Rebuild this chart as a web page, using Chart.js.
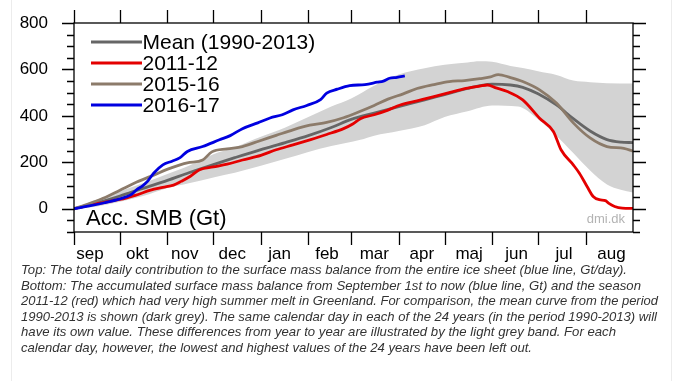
<!DOCTYPE html>
<html>
<head>
<meta charset="utf-8">
<script src="https://cdn.jsdelivr.net/npm/chart.js@4/dist/chart.umd.min.js"></script>
<style>
  html, body { margin:0; padding:0; background:#fff; }
  body { width:680px; height:381px; position:relative; overflow:hidden; }
  #wrap { position:absolute; left:0; top:0; width:680px; height:275px; }
  .edge { position:absolute; top:0; width:1px; height:381px; background:#ececec; }
  #cap { position:absolute; left:21px; top:262px; font-family:"Liberation Sans", Arial, sans-serif; font-style:italic; font-synthesis:style; font-size:13px; line-height:15.6px; color:#333; }
  #cap div { white-space:nowrap; height:15.6px; }
  #cap span { display:inline-block; transform-origin:0 50%; }
</style>
</head>
<body>
<div class="edge" style="left:11px"></div>
<div class="edge" style="left:671px"></div>
<div id="wrap"><canvas id="c" width="680" height="275"></canvas></div>
<div id="cap"></div>
<script>
// ---- data (day index from 1 September, value in Gt) ----
const months = ['sep','okt','nov','dec','jan','feb','mar','apr','maj','jun','jul','aug'];
const monthStarts = [0,30,61,91,122,153,181,212,242,273,303,334];
const monthLabelDays = [10.4,41.4,72.3,103.3,134.2,165.2,196.1,227.1,258,289,319.9,350.9];
const yLabelVals = [0,200,400,600,800];

const meanDay = [0,15,30,45,61,75,91,105,122,138,153,168,181,196,212,229,242,257,265,273,285,293,303,315,326,337,348,357,365];
const meanGt  = [0,25,55,88,122,155,190,220,255,285,315,350,385,412,440,469,492,518,530,537,533,523,495,447,388,335,298,287,285];

const bandHiDay = [0,15,30,45,61,75,91,105,122,138,153,168,181,196,212,229,242,257,265,273,285,293,303,315,326,337,348,365];
const bandHiGt  = [0,40,75,110,150,185,235,265,310,350,395,440,475,530,578,605,620,630,635,633,615,606,592,576,552,545,541,540];

const bandLoDay = [0,15,30,45,61,75,91,105,122,138,153,168,187,196,212,229,242,257,273,290,303,315,326,337,348,357,365];
const bandLoGt  = [0,10,30,55,90,110,135,155,185,215,245,270,297,315,335,360,395,420,445,440,385,315,240,165,105,82,70];

const red1112Day = [0,10,20,30,40,50,58,65,70,76,82,91,100,110,122,132,143,154,165,176,182,187,196,205,213,224,235,245,256,265,270,275,283,293,304,313,318,326,330,335,339,343,347,349,353,358,365];
const red1112Gt  = [0,16,28,40,58,80,92,102,118,140,168,180,192,210,230,254,275,297,320,345,365,388,405,425,447,465,483,500,518,528,533,522,505,469,390,333,254,189,153,96,53,39,35,24,10,3,2];

const brown1516Day = [0,10,19,30,41,52,63,74,84,90,100,110,121,132,143,154,165,176,187,196,205,215,224,235,245,255,265,272,277,285,293,304,315,326,337,348,359,365];
const brown1516Gt  = [0,22,45,80,115,145,175,198,210,245,258,268,292,316,340,360,372,392,420,445,472,495,518,535,548,552,560,568,578,565,548,512,455,370,305,268,260,248];

const blue1617Day = [0,10,20,30,37,41,45,48,52,58,64,69,74,84,95,102,110,120,128,136,143,152,161,165,172,180,190,198,202,206,211,216];
const blue1617Gt  = [0,12,26,43,60,82,100,118,153,189,205,219,247,268,297,315,345,370,391,405,426,445,470,498,515,530,535,545,550,562,566,572];

const captionLines = [
  'Top: The total daily contribution to the surface mass balance from the entire ice sheet (blue line, Gt/day).',
  'Bottom: The accumulated surface mass balance from September 1st to now (blue line, Gt) and the season',
  '2011-12 (red) which had very high summer melt in Greenland. For comparison, the mean curve from the period',
  '1990-2013 is shown (dark grey). The same calendar day in each of the 24 years (in the period 1990-2013) will',
  'have its own value. These differences from year to year are illustrated by the light grey band. For each',
  'calendar day, however, the lowest and highest values of the 24 years have been left out.'
];
const captionWidths = [606,620,637,636,595,511];

// ---- build ----
const pts = (d, v) => d.map((x, i) => ({x, y: v[i]}));
const FONT = '"Liberation Sans", Arial, Helvetica, sans-serif';

const lineSet = (label, d, v, color) => ({
  label, data: pts(d, v), borderColor: color, backgroundColor: color,
  borderWidth: 2.8, pointRadius: 0, fill: false, cubicInterpolationMode: 'monotone'
});

const datasets = [
  lineSet('2016-17', blue1617Day, blue1617Gt, '#0000e0'),
  lineSet('2015-16', brown1516Day, brown1516Gt, '#8c7b6a'),
  lineSet('2011-12', red1112Day, red1112Gt, '#e40000'),
  lineSet('Mean (1990-2013)', meanDay, meanGt, '#666666'),
  { label: 'bandHi', data: pts(bandHiDay, bandHiGt), borderWidth: 0, borderColor: 'rgba(0,0,0,0)',
    backgroundColor: '#d3d3d3', pointRadius: 0, fill: '+1', cubicInterpolationMode: 'monotone' },
  { label: 'bandLo', data: pts(bandLoDay, bandLoGt), borderWidth: 0, borderColor: 'rgba(0,0,0,0)',
    backgroundColor: '#d3d3d3', pointRadius: 0, fill: false, cubicInterpolationMode: 'monotone' }
];
const legendOrder = ['Mean (1990-2013)', '2011-12', '2015-16', '2016-17'];

const decor = {
  id: 'decor',
  afterDatasetsDraw(chart) {
    const {ctx, chartArea: a, scales: {x, y}} = chart;
    ctx.save();
    ctx.strokeStyle = '#000';
    ctx.lineWidth = 1.3;
    ctx.strokeRect(a.left, a.top, a.right - a.left, a.bottom - a.top);
    ctx.beginPath();
    for (let v = -100; v <= 800; v += 50) {
      const py = Math.round(y.getPixelForValue(v)) + 0.5;
      const major = v % 200 === 0;
      ctx.moveTo(a.left - (major ? 12 : 7), py); ctx.lineTo(a.left, py);
      ctx.moveTo(a.right, py); ctx.lineTo(a.right + (major ? 13 : 7), py);
    }
    monthStarts.forEach(d => {
      const px = Math.round(x.getPixelForValue(d)) + 0.5;
      ctx.moveTo(px, a.top - 13); ctx.lineTo(px, a.top);
      ctx.moveTo(px, a.bottom); ctx.lineTo(px, a.bottom + 13);
    });
    ctx.stroke();

    // legend
    ctx.font = '21px ' + FONT;
    ctx.textBaseline = 'alphabetic';
    ctx.textAlign = 'left';
    legendOrder.forEach((lab, i) => {
      const ds = chart.data.datasets.find(d => d.label === lab);
      const base = a.top + 25.5 + 21 * i;
      ctx.strokeStyle = ds.borderColor;
      ctx.lineWidth = 2.8;
      ctx.beginPath();
      ctx.moveTo(a.left + 17, base - 6.5);
      ctx.lineTo(a.left + 68, base - 6.5);
      ctx.stroke();
      ctx.fillStyle = '#000';
      ctx.fillText(lab, a.left + 68.5, base);
    });

    ctx.font = '22px ' + FONT;
    ctx.fillStyle = '#000';
    ctx.fillText('Acc. SMB (Gt)', a.left + 12, a.bottom - 7);

    ctx.font = '13px ' + FONT;
    ctx.fillStyle = '#b3b3b3';
    ctx.textAlign = 'right';
    ctx.fillText('dmi.dk', a.right - 8, a.bottom - 9.5);
    ctx.restore();
  }
};

const hiddenGrid = (len) => ({ display: true, drawOnChartArea: false, drawTicks: true, tickLength: len,
  color: 'rgba(0,0,0,0)', tickColor: 'rgba(0,0,0,0)', lineWidth: 0 });

new Chart(document.getElementById('c'), {
  type: 'line',
  data: { datasets },
  options: {
    responsive: false,
    devicePixelRatio: 1,
    animation: false,
    layout: { autoPadding: false, padding: { left: 0, right: 47, top: 23, bottom: 0 } },
    plugins: { legend: { display: false }, tooltip: { enabled: false }, title: { display: false } },
    scales: {
      x: {
        type: 'linear', min: 0, max: 365, position: 'bottom',
        grid: hiddenGrid(12),
        border: { display: false },
        afterBuildTicks: s => { s.ticks = monthLabelDays.map(v => ({value: v})); },
        afterFit: s => { s.height = 43; },
        ticks: {
          autoSkip: false, maxRotation: 0, padding: 0, color: '#000',
          font: { family: FONT, size: 17 },
          callback: (v, i) => months[i]
        }
      },
      y: {
        type: 'linear', min: -100, max: 800,
        grid: hiddenGrid(26),
        border: { display: false },
        afterBuildTicks: s => { s.ticks = yLabelVals.map(v => ({value: v})); },
        afterFit: s => { s.width = 74; },
        ticks: {
          padding: 0, color: '#000',
          font: { family: FONT, size: 17 },
          callback: v => String(v)
        }
      }
    }
  },
  plugins: [decor]
});

// caption
const cap = document.getElementById('cap');
captionLines.forEach((t, i) => {
  const row = document.createElement('div');
  const sp = document.createElement('span');
  sp.textContent = t;
  row.appendChild(sp);
  cap.appendChild(row);
  const w = sp.getBoundingClientRect().width;
  sp.style.transform = 'scaleX(' + (captionWidths[i] / w) + ')';
});
</script>
</body>
</html>
